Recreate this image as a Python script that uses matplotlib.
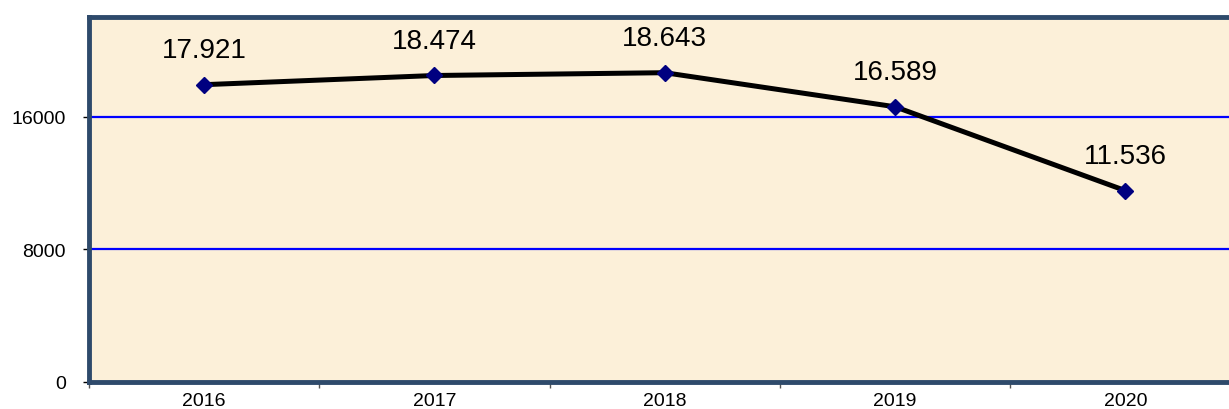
import numpy as np
import matplotlib
matplotlib.use('Agg')
import matplotlib.pyplot as plt

plt.rcParams['font.family'] = ['Liberation Sans', 'DejaVu Sans']

# data
years = ['2016', '2017', '2018', '2019', '2020']
values = [17921, 18474, 18643, 16589, 11536]
yticks = [0, 8000, 16000]

fig = plt.figure(figsize=(12.29, 4.10), dpi=100, facecolor='white')
# right edge of the plot area runs past the picture edge
ax = fig.add_axes([89 / 1229, 27 / 410, 1151.5 / 1229, 365 / 410])
ax.set_facecolor('#FCF0D9')

x = np.arange(len(years))
ax.set_xlim(-0.5, len(years) - 0.5)
ax.set_ylim(0, 22000)

for yv in yticks[1:]:
    ax.axhline(yv, color='#0000FF', linewidth=1.6, zorder=1)

ax.plot(x, values, color='black', linewidth=3.6, zorder=3, solid_capstyle='round')
ax.plot(x, values, linestyle='none', marker='D', markersize=8,
        color='#000080', zorder=4)

for xi, v in zip(x, values):
    ax.annotate(f'{v / 1000:.3f}', (xi, v), xytext=(0, 25), textcoords='offset points',
                ha='center', va='center', fontsize=20, color='black', zorder=5)

ax.set_yticks(yticks)
ax.set_yticklabels([str(t) for t in yticks], fontsize=14)
ax.tick_params(axis='y', direction='out', length=4.5, width=1, pad=12, colors='black')

ax.set_xticks(x)
ax.set_xticklabels(years, fontsize=14)
ax.tick_params(axis='x', which='major', length=0, pad=7)
ax.set_xticks(np.arange(-0.5, len(years), 1), minor=True)
ax.tick_params(axis='x', which='minor', direction='out', length=4, width=1, color='#555555')

for side in ['top', 'left', 'bottom', 'right']:
    ax.spines[side].set_color('#2E4A6B')
    ax.spines[side].set_linewidth(3.5)

fig.savefig('out.png', dpi=100, facecolor='white')
